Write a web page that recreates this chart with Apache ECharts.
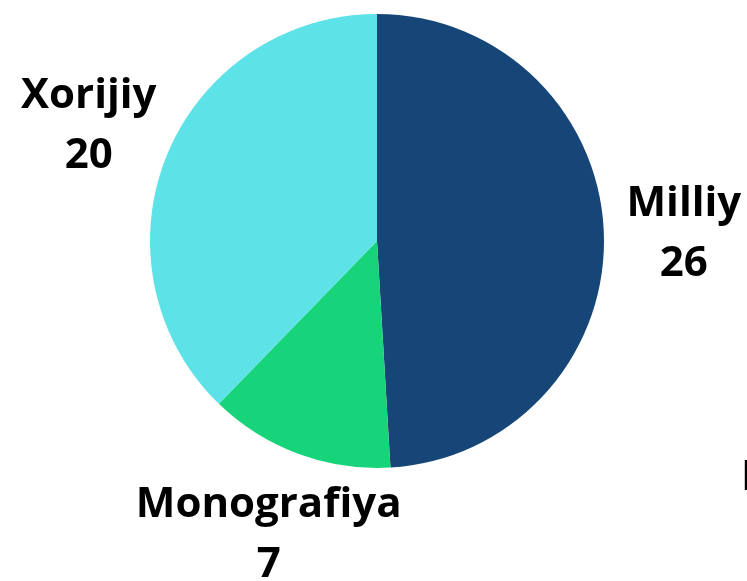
<!DOCTYPE html>
<html>
<head>
<meta charset="utf-8">
<script src="https://cdn.jsdelivr.net/npm/echarts@6/dist/echarts.min.js"></script>
<style>
    html, body { margin: 0; padding: 0; background: #ffffff; }
    #chart { width: 747px; height: 581px; }
</style>
</head>
<body>
<div id="chart"></div>
<script>
// data
const categories = ['Milliy', 'Monografiya', 'Xorijiy'];
const values = [26, 7, 20];
const colors = ['#164677', '#17d47b', '#5de2e7'];
const cutLabel = 'Maqola';

const pieData = categories.map((name, i) => ({
    name: name,
    value: values[i],
    itemStyle: { color: colors[i] }
}));

const chart = echarts.init(document.getElementById('chart'));
const labelFont = {
    fontFamily: 'Open Sans',
    fontWeight: 'bold',
    fontSize: 42,
    lineHeight: 60,
    color: '#000000'
};

const option = {
    animation: false,
    series: [
        {
            type: 'pie',
            center: [377, 241],
            radius: [0, 227],
            startAngle: 90,
            clockwise: true,
            silent: true,
            itemStyle: { borderWidth: 0 },
            label: { show: false },
            labelLine: { show: false },
            data: pieData
        },
        {
            // transparent ring that only carries the labels
            type: 'pie',
            center: [377, 243],
            radius: [300, 316],
            startAngle: 90,
            clockwise: true,
            silent: true,
            itemStyle: { color: 'rgba(0,0,0,0)', borderWidth: 0 },
            label: Object.assign({
                show: true,
                position: 'inside',
                rotate: 0,
                formatter: '{b}\n{c}'
            }, labelFont),
            labelLine: { show: false },
            labelLayout: function (params) {
                // the right-hand label sits a little closer to the pie
                return params.dataIndex === 0 ? { dx: -4 } : {};
            },
            data: categories.map((name, i) => ({ name: name, value: values[i] }))
        }
    ],
    graphic: [
        {
            type: 'text',
            left: 741,
            top: 457,
            style: {
                text: cutLabel,
                font: 'bold 42px "Open Sans"',
                fill: '#000000'
            }
        }
    ]
};
chart.setOption(option);
</script>
</body>
</html>
